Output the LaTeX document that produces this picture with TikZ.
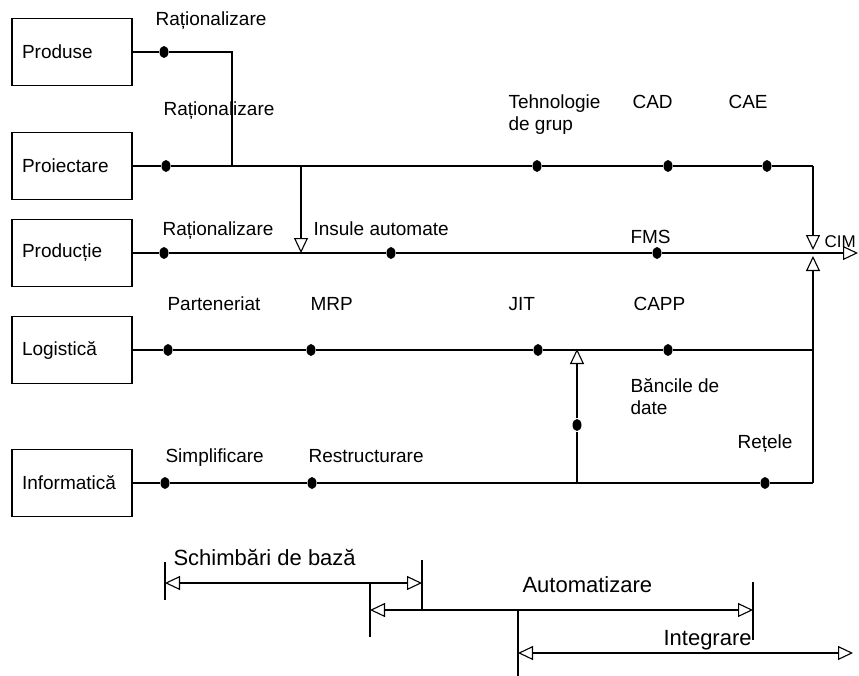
\documentclass[tikz,border=0pt]{standalone}
\usepackage{fontspec}
\setmainfont{Liberation Sans}
\usetikzlibrary{arrows.meta,shapes.geometric,positioning}

\begin{document}
\begin{tikzpicture}[x=1pt,y=-1pt,line width=1.1pt,
    every node/.style={font=\fontsize{19}{22}\selectfont},
    box/.style={draw,line width=1.3pt,text width=100pt,inner xsep=10pt,minimum height=67pt,align=left},
    spot/.style={ellipse,fill,inner sep=0pt,minimum width=9pt,minimum height=12pt},
    lbl/.style={anchor=base west,inner sep=0pt},
    lbl2/.style={anchor=north west,inner sep=0pt,align=left},
    big/.style={anchor=base west,inner sep=0pt,font=\fontsize{22}{26}\selectfont},
    tri/.style={-{Triangle[open,length=15pt,width=14pt]}},
    twotri/.style={{Triangle[open,length=15pt,width=14pt]}-{Triangle[open,length=15pt,width=14pt]}}]
    \useasboundingbox (0,0) rectangle (859,675);

    % Departments %
    \node[box] (prod) at (72,52) {Produse};
    \node[box] (proi) at (72,166) {Proiectare};
    \node[box] (pdc) at (72,253) {Producție};
    \node[box] (log) at (72,350) {Logistică};
    \node[box] (inf) at (72,483) {Informatică};

    % Steps %
    \node[spot] (d1) at (164,52) {};
    \node[spot] (p1) at (166,166) {};
    \node[spot] (p2) at (537,166) {};
    \node[spot] (p3) at (668,166) {};
    \node[spot] (p4) at (767,166) {};
    \node[spot] (q1) at (164,253) {};
    \node[spot] (q2) at (391,253) {};
    \node[spot] (q3) at (657,253) {};
    \node[spot] (l1) at (168,350) {};
    \node[spot] (l2) at (311,350) {};
    \node[spot] (l3) at (538,350) {};
    \node[spot] (l4) at (668,350) {};
    \node[spot] (i1) at (165,483) {};
    \node[spot] (i2) at (312,483) {};
    \node[spot] (i3) at (765,483) {};
    \node[spot] (v1) at (577,425) {};

    \coordinate (c1) at (232,52);
    \coordinate (c2) at (232,166);
    \coordinate (a1) at (301,166);
    \coordinate (a2) at (301,253);
    \coordinate (r1) at (813,166);
    \coordinate (r2) at (813,250);
    \coordinate (r3) at (813,350);
    \coordinate (r4) at (813,483);
    \coordinate (r5) at (813,256);
    \coordinate (b1) at (577,483);
    \coordinate (b2) at (577,349);
    \coordinate (cim) at (858,253);

    % Lines %
    \draw (prod) -- (d1) -- (c1) -- (c2);
    \draw (proi) -- (p1) -- (p2) -- (p3) -- (p4) -- (r1);
    \draw[tri] (pdc) -- (q1) -- (q2) -- (q3) -- (cim);
    \draw (log) -- (l1) -- (l2) -- (l3) -- (l4) -- (r3);
    \draw (inf) -- (i1) -- (i2) -- (i3) -- (r4);
    \draw[tri] (a1) -- (a2);
    \draw[tri] (r1) -- (r2);
    \draw[tri] (r4) -- (r5);
    \draw (b1) -- (v1);
    \draw[tri] (v1) -- (b2);

    % Labels %
    \node[lbl] (t1) at (155,25) {Raționalizare};
    \node[lbl] (t2) at (163,115) {Raționalizare};
    \node[lbl2] (t3) at (508,94) {Tehnologie\\de grup};
    \node[lbl] (t4) at (632,108) {CAD};
    \node[lbl] (t5) at (728,108) {CAE};
    \node[lbl] (t6) at (162,235) {Raționalizare};
    \node[lbl] (t7) at (313,235) {Insule automate};
    \node[lbl] (t8) at (630,243) {FMS};
    \node[lbl,font=\fontsize{17}{20}\selectfont] (t9) at (824,247) {CIM};
    \node[lbl] (t10) at (167,310) {Parteneriat};
    \node[lbl] (t11) at (310,310) {MRP};
    \node[lbl] (t12) at (508,310) {JIT};
    \node[lbl] (t13) at (633,310) {CAPP};
    \node[lbl2] (t14) at (630,378) {Băncile de\\date};
    \node[lbl] (t15) at (737,448) {Rețele};
    \node[lbl] (t16) at (165,462) {Simplificare};
    \node[lbl] (t17) at (308,462) {Restructurare};

    % Phases %
    \coordinate (s0) at (165,583);
    \coordinate (s1) at (422,583);
    \coordinate (a0) at (370,610);
    \coordinate (a3) at (753,610);
    \coordinate (n0) at (518,653);
    \coordinate (n1) at (853,653);
    \draw[twotri] (s0) -- (s1);
    \draw[twotri] (a0) -- (a3);
    \draw[twotri] (n0) -- (n1);
    \draw ([yshift=21pt]s0) -- ([yshift=-17pt]s0);
    \draw ([yshift=23pt]s1) -- (s1 |- a0);
    \draw (a0 |- s0) -- ([yshift=-27pt]a0);
    \draw ([yshift=28pt]a3) -- ([yshift=-30pt]a3);
    \draw (n0 |- a0) -- ([yshift=-24pt]n0);
    \node[big] (f1) at (173,565) {Schimbări de bază};
    \node[big] (f2) at (522,592) {Automatizare};
    \node[big] (f3) at (663,645) {Integrare};
\end{tikzpicture}
\end{document}
